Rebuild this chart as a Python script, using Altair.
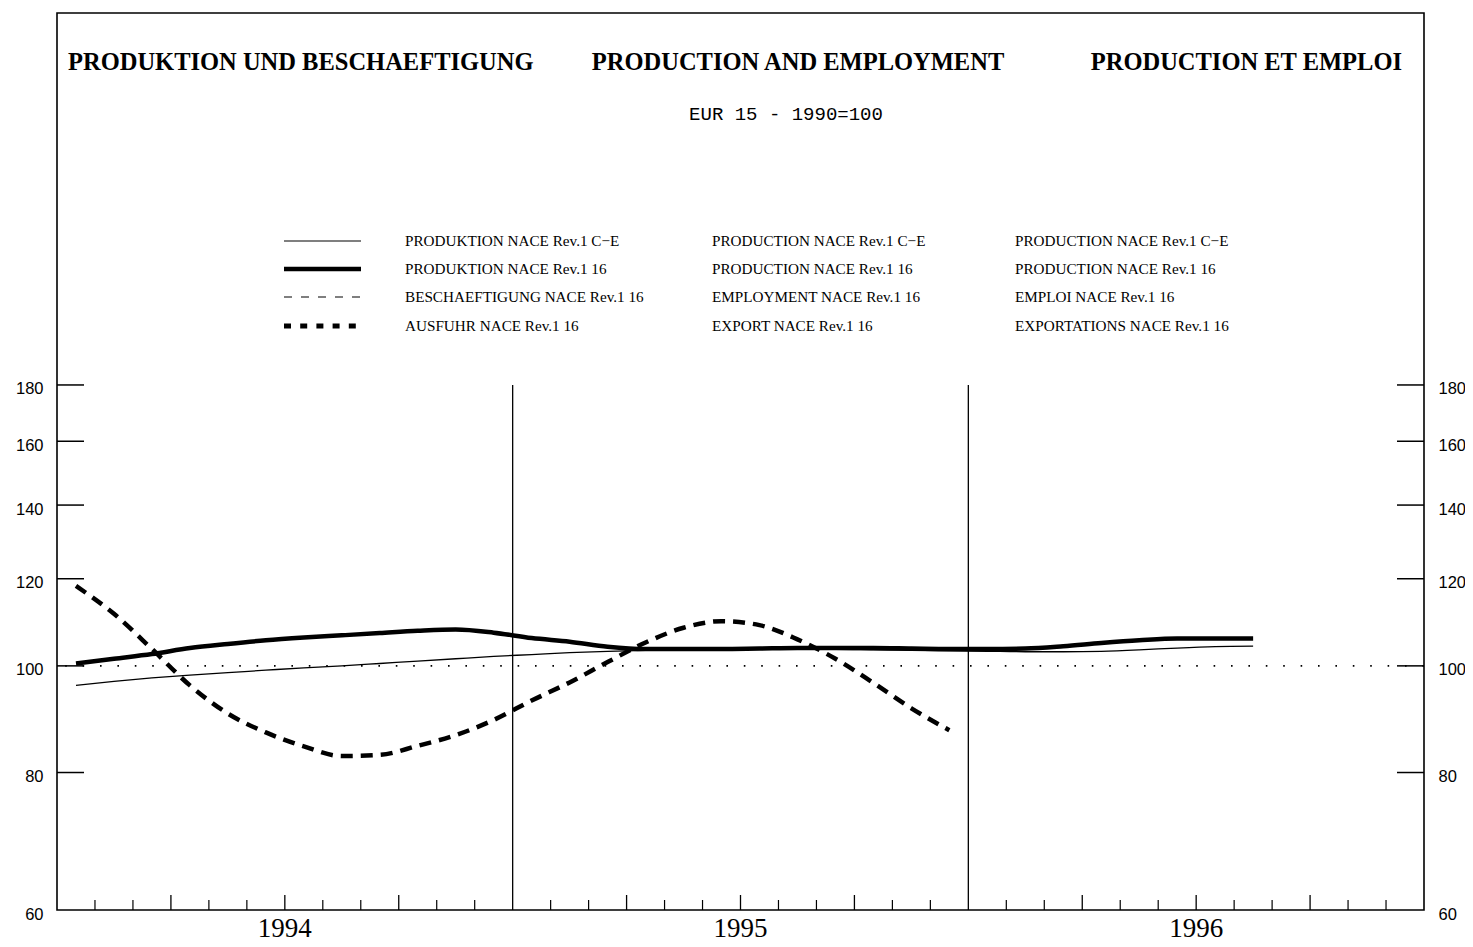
import altair as alt
import pandas as pd

# ---------------- data ----------------
# month index: 0 = Jan 1994 ... 35 = Dec 1996 (values plotted at month mid-points)
prod_ce_months = list(range(32))
prod_ce = [96.0, 96.8, 97.5, 98.1, 98.6, 99.1, 99.6, 100.0, 100.5, 101.0, 101.5, 102.0,
           102.4, 102.8, 103.1, 103.3, 103.4, 103.5, 103.5, 103.5, 103.5, 103.4, 103.3, 103.2,
           103.1, 103.0, 103.0, 103.1, 103.4, 103.8, 104.1, 104.2]

prod_16_months = list(range(32))
prod_16 = [100.5, 101.5, 102.5, 103.8, 104.7, 105.5, 106.1, 106.6, 107.1, 107.6, 107.9, 107.2,
           106.0, 105.2, 104.1, 103.6, 103.6, 103.6, 103.7, 103.8, 103.8, 103.8, 103.7, 103.6,
           103.6, 103.7, 104.2, 104.9, 105.5, 105.9, 105.9, 105.9]

export_months = list(range(24))
export_16 = [118.2, 111.5, 103.6, 96.0, 90.5, 87.0, 84.5, 82.8, 83.0, 84.6, 86.5, 89.3,
             93.0, 96.6, 100.8, 105.0, 108.3, 109.8, 108.9, 105.7, 101.5, 96.5, 91.5, 87.4]

y_tick_values = [60, 80, 100, 120, 140, 160, 180]
reference_value = [100]
year_labels = ["1994", "1995", "1996"]
year_centers = [6, 18, 30]
year_bounds = [12, 24]
quarter_months = [3, 6, 9, 15, 18, 21, 27, 30, 33]
other_months = [1, 2, 4, 5, 7, 8, 10, 11, 13, 14, 16, 17, 19, 20, 22, 23, 25, 26, 28, 29, 31, 32, 34, 35]

title_de = "PRODUKTION UND BESCHAEFTIGUNG"
title_en = "PRODUCTION AND EMPLOYMENT"
title_fr = "PRODUCTION ET EMPLOI"
subtitle = "EUR 15 - 1990=100"

legend_de = ["PRODUKTION NACE Rev.1 C\u2212E", "PRODUKTION NACE Rev.1 16",
             "BESCHAEFTIGUNG NACE Rev.1 16", "AUSFUHR NACE Rev.1 16"]
legend_en = ["PRODUCTION NACE Rev.1 C\u2212E", "PRODUCTION NACE Rev.1 16",
             "EMPLOYMENT NACE Rev.1 16", "EXPORT NACE Rev.1 16"]
legend_fr = ["PRODUCTION NACE Rev.1 C\u2212E", "PRODUCTION NACE Rev.1 16",
             "EMPLOI NACE Rev.1 16", "EXPORTATIONS NACE Rev.1 16"]

# ---------------- layout ----------------
W, H = 1367, 897
SERIF = "Liberation Serif"
SANS = "Liberation Sans"

xs = alt.Scale(domain=[0, 36], nice=False, zero=False)
ys = alt.Scale(type="log", domain=[60, 392], nice=False, zero=False)


def line_layer(months, values, width, dash=None):
    df = pd.DataFrame({"x": [m + 0.5 for m in months], "v": values})
    kw = dict(color="black", strokeWidth=width, interpolate="monotone")
    if dash:
        kw["strokeDash"] = dash
    return alt.Chart(df).mark_line(**kw).encode(
        x=alt.X("x:Q", scale=xs, axis=None),
        y=alt.Y("v:Q", scale=ys, axis=None),
    )


layers = []

# reference dotted line at 100
layers.append(
    alt.Chart(pd.DataFrame({"v": reference_value})).mark_rule(
        color="black", strokeWidth=1.8, strokeDash=[1.6, 15.8]
    ).encode(y=alt.Y("v:Q", scale=ys, axis=None))
)

# year separators (from 60 to 180)
layers.append(
    alt.Chart(pd.DataFrame({"m": year_bounds,
                            "lo": [min(y_tick_values)] * len(year_bounds),
                            "hi": [max(y_tick_values)] * len(year_bounds)})).mark_rule(
        color="black", strokeWidth=1.3
    ).encode(
        x=alt.X("m:Q", scale=xs, axis=None),
        y=alt.Y("lo:Q", scale=ys, axis=None),
        y2="hi:Q",
    )
)

# month ticks (inside, from bottom)
layers.append(
    alt.Chart(pd.DataFrame({"m": other_months})).mark_rule(color="black", strokeWidth=1.2).encode(
        x=alt.X("m:Q", scale=xs, axis=None),
        y=alt.value(H), y2=alt.value(H - 10),
    )
)
layers.append(
    alt.Chart(pd.DataFrame({"m": quarter_months})).mark_rule(color="black", strokeWidth=1.3).encode(
        x=alt.X("m:Q", scale=xs, axis=None),
        y=alt.value(H), y2=alt.value(H - 15),
    )
)

# year labels under the axis
layers.append(
    alt.Chart(pd.DataFrame({"m": year_centers, "label": year_labels})).mark_text(
        font=SERIF, fontSize=27, color="black", baseline="middle", align="center"
    ).encode(
        x=alt.X("m:Q", scale=xs, axis=None),
        y=alt.value(H + 19),
        text="label:N",
    )
)

# y ticks left / right with labels
ytick_df = pd.DataFrame({"v": y_tick_values[1:]})
axis_common = dict(values=y_tick_values, ticks=False, domain=False, grid=False, title=None,
                   labelFont=SANS, labelFontSize=16.5, labelColor="black", labelOffset=4,
                   labelFlush=False, labelOverlap=False)
layers.append(
    alt.Chart(ytick_df).mark_rule(color="black", strokeWidth=1.5).encode(
        y=alt.Y("v:Q", scale=ys, axis=alt.Axis(orient="left", labelPadding=14, **axis_common)),
        x=alt.value(0), x2=alt.value(27),
    )
)
layers.append(
    alt.Chart(ytick_df).mark_rule(color="black", strokeWidth=1.5).encode(
        y=alt.Y("v:Q", scale=ys, axis=alt.Axis(orient="right", labelPadding=14, **axis_common)),
        x=alt.value(W - 27), x2=alt.value(W),
    )
)

# data lines
layers.append(line_layer(prod_ce_months, prod_ce, 1.3))
layers.append(line_layer(prod_16_months, prod_16, 4.5))
layers.append(line_layer(export_months, export_16, 4.5, dash=[12, 8]))


def text_layer(s, x, y, align, size, font=SERIF, weight="normal"):
    return alt.Chart(pd.DataFrame({"t": [s]})).mark_text(
        align=align, baseline="middle", font=font, fontSize=size, fontWeight=weight, color="black"
    ).encode(x=alt.value(x), y=alt.value(y), text="t:N")


# titles
layers.append(text_layer(title_de, 11, 50, "left", 24.5, weight="bold"))
layers.append(text_layer(title_en, 741, 50, "center", 24.5, weight="bold"))
layers.append(text_layer(title_fr, 1345, 50, "right", 24.5, weight="bold"))
layers.append(text_layer(subtitle, 729, 101, "center", 19, font="Liberation Mono"))

# legend
legend_rows_y = [228, 256, 284, 313]
legend_styles = [
    dict(strokeWidth=1.2),
    dict(strokeWidth=4.5),
    dict(strokeWidth=1.2, strokeDash=[8, 9]),
    dict(strokeWidth=5, strokeDash=[7, 9.2]),
]
for i, yy in enumerate(legend_rows_y):
    layers.append(
        alt.Chart(pd.DataFrame({"k": [i]})).mark_rule(color="black", **legend_styles[i]).encode(
            x=alt.value(227), x2=alt.value(304), y=alt.value(yy)
        )
    )
    layers.append(text_layer(legend_de[i], 348, yy, "left", 15.2))
    layers.append(text_layer(legend_en[i], 655, yy, "left", 15.2))
    layers.append(text_layer(legend_fr[i], 958, yy, "left", 15.2))

chart = alt.layer(*layers).resolve_axis(y="independent").properties(
    width=W, height=H,
    autosize=alt.AutoSizeParams(type="none"),
    padding={"left": 49, "top": 5, "right": 41, "bottom": 40},
    background="white",
).configure_view(stroke="black", strokeWidth=1.6)

chart.save("out.html", embed_options={"renderer": "svg", "actions": False})
